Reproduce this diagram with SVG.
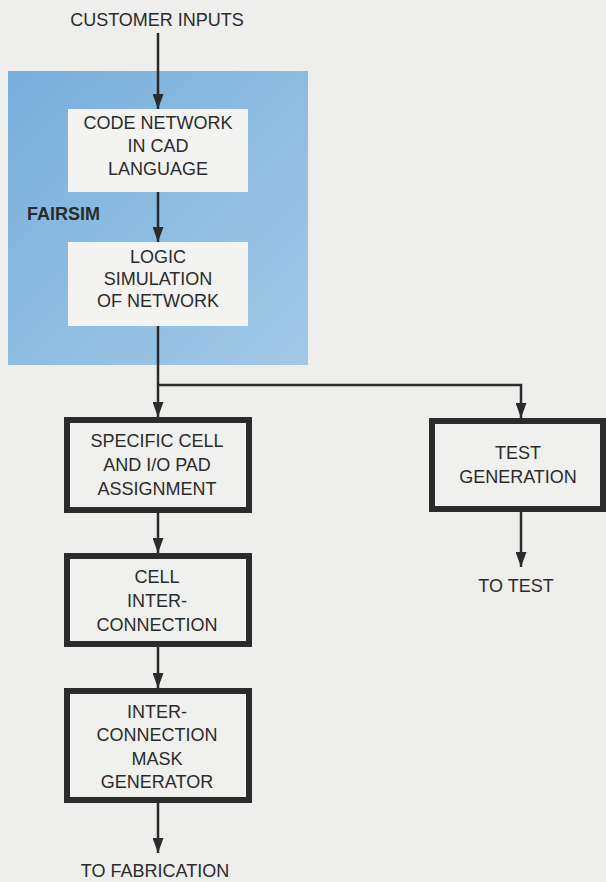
<svg xmlns="http://www.w3.org/2000/svg" width="606" height="882" viewBox="0 0 606 882">
<defs>
<linearGradient id="blue" x1="0" y1="0" x2="1" y2="1">
<stop offset="0" stop-color="#78aedb"/>
<stop offset="0.5" stop-color="#8dbce2"/>
<stop offset="1" stop-color="#a3c8e6"/>
</linearGradient>
<marker id="arr" markerUnits="userSpaceOnUse" markerWidth="15" markerHeight="11" refX="15" refY="5.5" orient="auto">
<path d="M0,0 L15,5.5 L0,11 z" fill="#2b2b2b"/>
</marker>
<style>
text{font-family:"Liberation Sans",Arial,sans-serif;font-size:18px;fill:#2b2b2b;text-anchor:middle}
.bold{font-weight:bold;text-anchor:start;font-size:18px}
.box{fill:#f0f0ee;stroke:#2b2b2b;stroke-width:6}
.wbox{fill:#f3f3f1}
.conn{stroke:#2b2b2b;stroke-width:2.5;fill:none}
</style>
</defs>
<rect width="606" height="882" fill="#eeeeec"/>
<g id="fairsim">
<rect x="8" y="71" width="300" height="294" fill="url(#blue)"/>
<text class="bold" x="27" y="220">FAIRSIM</text>
</g>
<g id="customer-inputs">
<text x="157" y="26">CUSTOMER INPUTS</text>
</g>
<g id="code-network">
<rect class="wbox" x="68" y="109" width="180" height="83"/>
<text x="158" y="129">CODE NETWORK</text>
<text x="158" y="152">IN CAD</text>
<text x="158" y="175">LANGUAGE</text>
</g>
<g id="logic-simulation">
<rect class="wbox" x="68" y="242" width="180" height="84"/>
<text x="158" y="263">LOGIC</text>
<text x="158" y="285">SIMULATION</text>
<text x="158" y="307">OF NETWORK</text>
</g>
<g id="cell-assignment">
<rect class="box" x="67" y="420" width="182" height="90"/>
<text x="157" y="447">SPECIFIC CELL</text>
<text x="157" y="471">AND I/O PAD</text>
<text x="157" y="495">ASSIGNMENT</text>
</g>
<g id="test-generation">
<rect class="box" x="432" y="421" width="171" height="88"/>
<text x="518" y="459">TEST</text>
<text x="518" y="483">GENERATION</text>
</g>
<g id="to-test">
<text x="516" y="592">TO TEST</text>
</g>
<g id="cell-interconnection">
<rect class="box" x="67" y="556" width="182" height="88"/>
<text x="157" y="583">CELL</text>
<text x="157" y="607">INTER-</text>
<text x="157" y="631">CONNECTION</text>
</g>
<g id="mask-generator">
<rect class="box" x="67" y="691" width="182" height="109"/>
<text x="157" y="718">INTER-</text>
<text x="157" y="741">CONNECTION</text>
<text x="157" y="765">MASK</text>
<text x="157" y="788">GENERATOR</text>
</g>
<g id="to-fabrication">
<text x="155" y="877">TO FABRICATION</text>
</g>
<g id="connectors">
<line class="conn" x1="158" y1="33" x2="158" y2="109" marker-end="url(#arr)"/>
<line class="conn" x1="158" y1="192" x2="158" y2="242" marker-end="url(#arr)"/>
<line class="conn" x1="158" y1="326" x2="158" y2="417" marker-end="url(#arr)"/>
<polyline class="conn" points="158,385 521,385 521,418" marker-end="url(#arr)"/>
<line class="conn" x1="158" y1="513" x2="158" y2="553" marker-end="url(#arr)"/>
<line class="conn" x1="158" y1="647" x2="158" y2="688" marker-end="url(#arr)"/>
<line class="conn" x1="158" y1="803" x2="158" y2="853" marker-end="url(#arr)"/>
<line class="conn" x1="521" y1="512" x2="521" y2="567" marker-end="url(#arr)"/>
</g>
</svg>
